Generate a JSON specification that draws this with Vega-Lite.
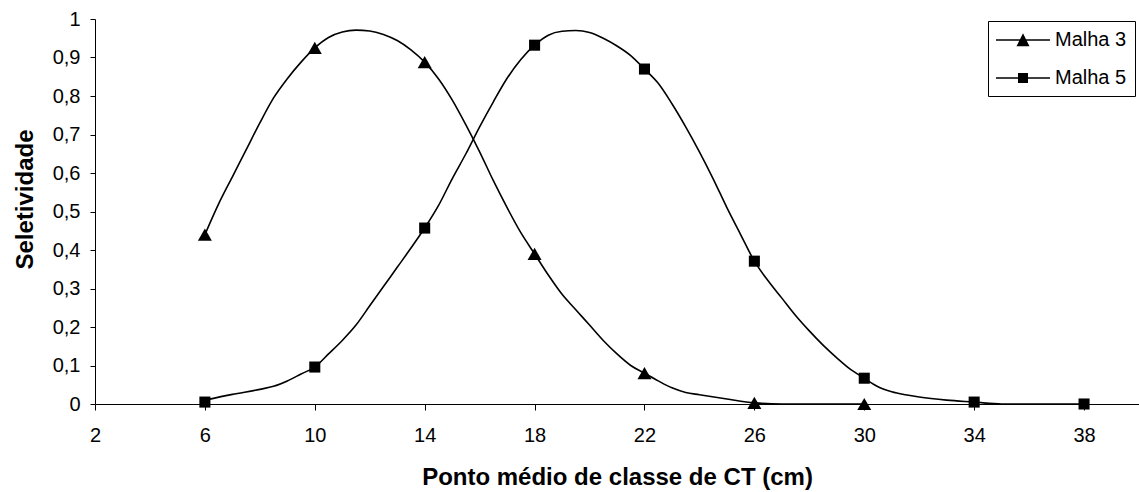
{
  "$schema": "https://vega.github.io/schema/vega-lite/v6.json",
  "width": 1044,
  "height": 385,
  "autosize": {"type": "none"},
  "padding": {"left": 95, "top": 19, "right": 0, "bottom": 88},
  "background": "white",
  "config": {
    "font": "Liberation Sans",
    "view": {"stroke": null},
    "axis": {"grid": false, "domainColor": "#000", "tickColor": "#000", "labelColor": "#000", "titleColor": "#000", "domainWidth": 1, "tickWidth": 1},
    "legend": {"labelFontSize": 20, "labelColor": "#000", "labelFont": "Liberation Sans"}
  },
  "datasets": {
    "curve": [
      {"series": "Malha 3", "x": 6, "y": 0.44},
      {"series": "Malha 3", "x": 6.5, "y": 0.52},
      {"series": "Malha 3", "x": 7, "y": 0.59},
      {"series": "Malha 3", "x": 7.5, "y": 0.66},
      {"series": "Malha 3", "x": 8, "y": 0.73},
      {"series": "Malha 3", "x": 8.5, "y": 0.795},
      {"series": "Malha 3", "x": 9, "y": 0.845},
      {"series": "Malha 3", "x": 9.5, "y": 0.888},
      {"series": "Malha 3", "x": 10, "y": 0.925},
      {"series": "Malha 3", "x": 10.5, "y": 0.952},
      {"series": "Malha 3", "x": 11, "y": 0.966},
      {"series": "Malha 3", "x": 11.5, "y": 0.971},
      {"series": "Malha 3", "x": 12, "y": 0.969},
      {"series": "Malha 3", "x": 12.5, "y": 0.96},
      {"series": "Malha 3", "x": 13, "y": 0.944},
      {"series": "Malha 3", "x": 13.5, "y": 0.92},
      {"series": "Malha 3", "x": 14, "y": 0.888},
      {"series": "Malha 3", "x": 14.5, "y": 0.845},
      {"series": "Malha 3", "x": 15, "y": 0.79},
      {"series": "Malha 3", "x": 15.5, "y": 0.725},
      {"series": "Malha 3", "x": 16, "y": 0.655},
      {"series": "Malha 3", "x": 16.5, "y": 0.58},
      {"series": "Malha 3", "x": 17, "y": 0.51},
      {"series": "Malha 3", "x": 17.5, "y": 0.445},
      {"series": "Malha 3", "x": 18, "y": 0.39},
      {"series": "Malha 3", "x": 18.5, "y": 0.335},
      {"series": "Malha 3", "x": 19, "y": 0.285},
      {"series": "Malha 3", "x": 19.5, "y": 0.245},
      {"series": "Malha 3", "x": 20, "y": 0.205},
      {"series": "Malha 3", "x": 20.5, "y": 0.165},
      {"series": "Malha 3", "x": 21, "y": 0.13},
      {"series": "Malha 3", "x": 21.5, "y": 0.1},
      {"series": "Malha 3", "x": 22, "y": 0.08},
      {"series": "Malha 3", "x": 22.5, "y": 0.06},
      {"series": "Malha 3", "x": 23, "y": 0.042},
      {"series": "Malha 3", "x": 23.5, "y": 0.03},
      {"series": "Malha 3", "x": 24, "y": 0.024},
      {"series": "Malha 3", "x": 25, "y": 0.013},
      {"series": "Malha 3", "x": 26, "y": 0.003},
      {"series": "Malha 3", "x": 27, "y": 0},
      {"series": "Malha 3", "x": 28, "y": 0},
      {"series": "Malha 3", "x": 29, "y": 0},
      {"series": "Malha 3", "x": 30, "y": 0},
      {"series": "Malha 5", "x": 6, "y": 0.01},
      {"series": "Malha 5", "x": 7, "y": 0.025},
      {"series": "Malha 5", "x": 8, "y": 0.038},
      {"series": "Malha 5", "x": 8.5, "y": 0.046},
      {"series": "Malha 5", "x": 9, "y": 0.06},
      {"series": "Malha 5", "x": 9.5, "y": 0.078},
      {"series": "Malha 5", "x": 10, "y": 0.096},
      {"series": "Malha 5", "x": 10.5, "y": 0.13},
      {"series": "Malha 5", "x": 11, "y": 0.165},
      {"series": "Malha 5", "x": 11.5, "y": 0.205},
      {"series": "Malha 5", "x": 12, "y": 0.255},
      {"series": "Malha 5", "x": 12.5, "y": 0.305},
      {"series": "Malha 5", "x": 13, "y": 0.355},
      {"series": "Malha 5", "x": 13.5, "y": 0.405},
      {"series": "Malha 5", "x": 14, "y": 0.457},
      {"series": "Malha 5", "x": 14.5, "y": 0.515},
      {"series": "Malha 5", "x": 15, "y": 0.585},
      {"series": "Malha 5", "x": 15.5, "y": 0.65},
      {"series": "Malha 5", "x": 16, "y": 0.72},
      {"series": "Malha 5", "x": 16.5, "y": 0.785},
      {"series": "Malha 5", "x": 17, "y": 0.846},
      {"series": "Malha 5", "x": 17.5, "y": 0.895},
      {"series": "Malha 5", "x": 18, "y": 0.932},
      {"series": "Malha 5", "x": 18.5, "y": 0.958},
      {"series": "Malha 5", "x": 19, "y": 0.968},
      {"series": "Malha 5", "x": 19.5, "y": 0.97},
      {"series": "Malha 5", "x": 20, "y": 0.965},
      {"series": "Malha 5", "x": 20.5, "y": 0.95},
      {"series": "Malha 5", "x": 21, "y": 0.93},
      {"series": "Malha 5", "x": 21.5, "y": 0.905},
      {"series": "Malha 5", "x": 22, "y": 0.87},
      {"series": "Malha 5", "x": 22.5, "y": 0.833},
      {"series": "Malha 5", "x": 23, "y": 0.78},
      {"series": "Malha 5", "x": 23.5, "y": 0.72},
      {"series": "Malha 5", "x": 24, "y": 0.655},
      {"series": "Malha 5", "x": 24.5, "y": 0.585},
      {"series": "Malha 5", "x": 25, "y": 0.51},
      {"series": "Malha 5", "x": 25.5, "y": 0.44},
      {"series": "Malha 5", "x": 26, "y": 0.371},
      {"series": "Malha 5", "x": 26.5, "y": 0.32},
      {"series": "Malha 5", "x": 27, "y": 0.275},
      {"series": "Malha 5", "x": 27.5, "y": 0.23},
      {"series": "Malha 5", "x": 28, "y": 0.19},
      {"series": "Malha 5", "x": 28.5, "y": 0.153},
      {"series": "Malha 5", "x": 29, "y": 0.12},
      {"series": "Malha 5", "x": 29.5, "y": 0.09},
      {"series": "Malha 5", "x": 30, "y": 0.067},
      {"series": "Malha 5", "x": 30.5, "y": 0.045},
      {"series": "Malha 5", "x": 31, "y": 0.032},
      {"series": "Malha 5", "x": 31.5, "y": 0.024},
      {"series": "Malha 5", "x": 32, "y": 0.018},
      {"series": "Malha 5", "x": 33, "y": 0.01},
      {"series": "Malha 5", "x": 34, "y": 0.005},
      {"series": "Malha 5", "x": 35, "y": 0},
      {"series": "Malha 5", "x": 36, "y": 0},
      {"series": "Malha 5", "x": 37, "y": 0},
      {"series": "Malha 5", "x": 38, "y": 0}
    ],
    "obs": [
      {"series": "Malha 3", "x": 6, "y": 0.44},
      {"series": "Malha 3", "x": 10, "y": 0.925},
      {"series": "Malha 3", "x": 14, "y": 0.888},
      {"series": "Malha 3", "x": 18, "y": 0.39},
      {"series": "Malha 3", "x": 22, "y": 0.08},
      {"series": "Malha 3", "x": 26, "y": 0.003},
      {"series": "Malha 3", "x": 30, "y": 0},
      {"series": "Malha 5", "x": 6, "y": 0.005},
      {"series": "Malha 5", "x": 10, "y": 0.096},
      {"series": "Malha 5", "x": 14, "y": 0.457},
      {"series": "Malha 5", "x": 18, "y": 0.932},
      {"series": "Malha 5", "x": 22, "y": 0.87},
      {"series": "Malha 5", "x": 26, "y": 0.371},
      {"series": "Malha 5", "x": 30, "y": 0.067},
      {"series": "Malha 5", "x": 34, "y": 0.005},
      {"series": "Malha 5", "x": 38, "y": 0}
    ]
  },
  "encoding": {
    "x": {
      "field": "x", "type": "quantitative",
      "scale": {"domain": [2, 40], "nice": false, "zero": false},
      "axis": {
        "values": [2, 6, 10, 14, 18, 22, 26, 30, 34, 38],
        "title": "Ponto médio de classe de CT (cm)",
        "titleFontSize": 24, "titleFontWeight": "bold",
        "titleX": 522, "titleY": 80, "titleBaseline": "alphabetic", "titleAlign": "center",
        "labelFontSize": 20, "labelPadding": 15, "tickSize": 6, "labelFlush": false
      }
    },
    "y": {
      "field": "y", "type": "quantitative",
      "scale": {"domain": [0, 1], "nice": false},
      "axis": {
        "values": [0, 0.1, 0.2, 0.3, 0.4, 0.5, 0.6, 0.7, 0.8, 0.9, 1],
        "format": ".1~f",
        "labelExpr": "replace(datum.label, '.', ',')",
        "title": "Seletividade",
        "titleFontSize": 24, "titleFontWeight": "bold",
        "titleAngle": 270, "titleX": -63, "titleY": 180, "titleBaseline": "alphabetic", "titleAlign": "center",
        "labelFontSize": 20, "labelPadding": 10, "tickSize": 5, "labelFlush": false
      }
    }
  },
  "layer": [
    {
      "data": {"name": "curve"},
      "mark": {"type": "line", "interpolate": "monotone", "color": "#000", "strokeWidth": 1.6},
      "encoding": {"detail": {"field": "series", "type": "nominal"}}
    },
    {
      "data": {"name": "obs"},
      "mark": {"type": "point", "filled": true, "opacity": 1, "color": "#000", "size": 196},
      "encoding": {
        "shape": {
          "field": "series", "type": "nominal",
          "scale": {"domain": ["Malha 3", "Malha 5"], "range": ["M0,-0.87L1,0.87H-1Z", "M-0.79,-0.79H0.79V0.79H-0.79Z"]},
          "legend": null
        }
      }
    },
    {
      "data": {"name": "obs"},
      "mark": {"type": "point", "filled": true, "color": "#000", "opacity": 1, "size": 0},
      "encoding": {
        "shape": {
          "field": "series", "type": "nominal",
          "scale": {"domain": ["Malha 3", "Malha 5"], "range": ["M-2.7,-0.08H2.7V0.08H-2.7ZM0,-0.67L0.65,0.63H-0.65Z", "M-2.7,-0.08H2.7V0.08H-2.7ZM-0.5,-0.5H0.5V0.5H-0.5Z"]},
          "legend": {
            "title": null,
            "orient": "none",
            "legendX": 893,
            "legendY": 2,
            "padding": 8,
            "strokeColor": "#000",
            "fillColor": "white",
            "cornerRadius": 0,
            "labelFontSize": 20,
            "labelColor": "#000",
            "labelOffset": 21,
            "rowPadding": 17,
            "symbolSize": 400,
            "symbolOffset": 16,
            "symbolFillColor": "#000",
            "symbolOpacity": 1
          }
        }
      }
    }
  ],
  "resolve": {"scale": {"shape": "independent"}}
}
